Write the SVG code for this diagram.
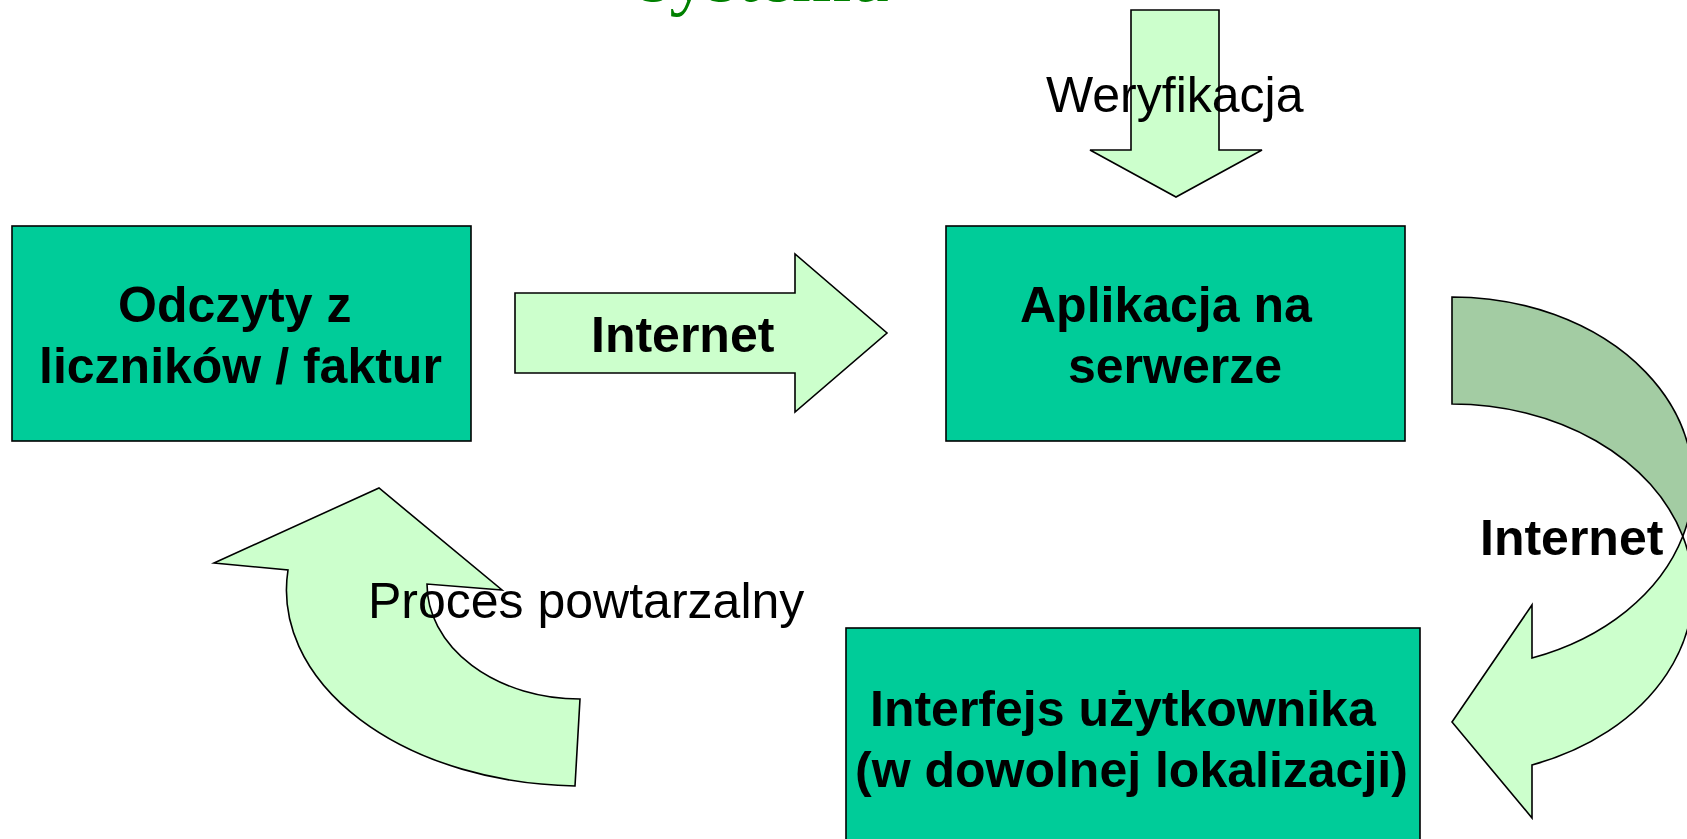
<svg xmlns="http://www.w3.org/2000/svg" width="1687" height="839" viewBox="0 0 1687 839">
<style>
.box{fill:#00CC99;stroke:#000;stroke-width:1.6}
.arr{fill:#CCFFCC;stroke:#000;stroke-width:1.6;stroke-linejoin:miter}
.dark{fill:#A3CCA3;stroke:#000;stroke-width:1.6}
.bt{font-family:"Liberation Sans",Arial,sans-serif;font-weight:bold;font-size:50px;fill:#000}
.rt{font-family:"Liberation Sans",Arial,sans-serif;font-size:50px;fill:#000}
.title{font-family:"Liberation Serif","Times New Roman",serif;font-size:76px;fill:#008000}
</style>
<rect width="1687" height="839" fill="#fff"/>
<text class="title" x="640" y="0.5">systemu</text>
<g id="connectors">
  <g id="arrow-internet-1">
    <polygon class="arr" points="515,293 795,293 795,254 887,333 795,412 795,373 515,373"/>
  </g>
  <g id="arrow-weryfikacja">
    <polygon class="arr" points="1131,10 1219,10 1219,150 1262,150 1176,197 1090,150 1131,150"/>
  </g>
  <g id="arrow-internet-2">
    <path class="dark" d="M1452,297 A241,185.75 0 0 1 1682.8,536.25 A241,185.75 0 0 0 1452,404 Z"/>
    <path class="arr" d="M1682.8,536.25 A241,185.75 0 0 1 1532,657.95 L1532,604.95 L1452,722 L1532,817.95 L1532,764.95 A241,185.75 0 0 0 1682.8,536.25 Z"/>
  </g>
  <g id="arrow-cykl">
    <path class="arr" d="M580,699 L575,786 A296,196 0 0 1 288,570 L214,563 L379,488 L502,590 L427,584 A153,115 0 0 0 580,699 Z"/>
  </g>
</g>
<g id="node-odczyty">
  <rect class="box" x="12" y="226" width="459" height="215"/>
  <text class="bt" x="118" y="322">Odczyty z</text>
  <text class="bt" x="39" y="383">liczników / faktur</text>
</g>
<g id="node-aplikacja">
  <rect class="box" x="946" y="226" width="459" height="215"/>
  <text class="bt" x="1020" y="322">Aplikacja na</text>
  <text class="bt" x="1068" y="383">serwerze</text>
</g>
<g id="node-interfejs">
  <rect class="box" x="846" y="628" width="574" height="220"/>
  <text class="bt" x="870" y="726">Interfejs użytkownika</text>
  <text class="bt" x="855" y="787">(w dowolnej lokalizacji)</text>
</g>
<g id="labels">
  <text class="bt" x="591" y="352">Internet</text>
  <text class="bt" x="1480" y="555">Internet</text>
  <text class="rt" x="1046" y="112">Weryfikacja</text>
  <text class="rt" x="368" y="618">Proces powtarzalny</text>
</g>
</svg>
